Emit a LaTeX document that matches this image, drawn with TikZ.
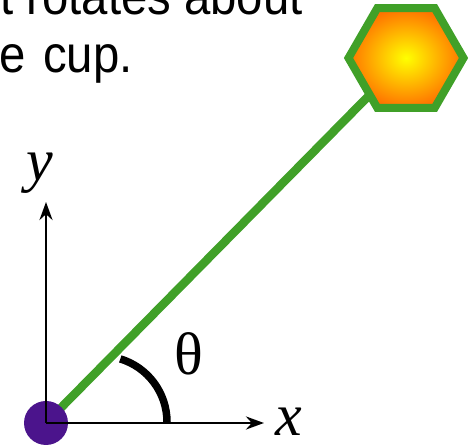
\documentclass[tikz,border=0pt]{standalone}
\usepackage{fontspec}
\newfontfamily\arialfont[FakeStretch=0.91]{Liberation Sans}
\newfontfamily\tnrfont{Liberation Serif}
\usetikzlibrary{shapes.geometric,arrows.meta,backgrounds}
\definecolor{rodgreen}{RGB}{64,160,40}
\definecolor{ballpurple}{RGB}{75,20,140}
\definecolor{hexorange}{RGB}{255,115,0}
\definecolor{hexyellow}{RGB}{255,255,0}
\tikzset{
  caption/.style={font=\arialfont\fontsize{52}{58}\selectfont, inner sep=0pt, anchor=base east},
  symlabel/.style={font=\tnrfont\fontsize{60}{66}\selectfont, inner sep=0pt},
  italabel/.style={font=\tnrfont\itshape\fontsize{60}{66}\selectfont, inner sep=0pt},
  rod/.style={draw=rodgreen, line width=8.5pt},
  ball/.style={circle, fill=ballpurple, minimum size=44pt, inner sep=0pt},
  hexbody/.style={regular polygon, regular polygon sides=6, minimum size=115pt, inner sep=0pt,
    draw=rodgreen, line width=8pt, inner color=hexyellow, outer color=hexorange},
  axis/.style={draw=black, line width=2.8pt, -{Stealth[length=18pt, width=13pt]}},
  anglearc/.style={draw=black, line width=7.5pt}
}
\begin{document}
\begin{tikzpicture}[x=1pt, y=1pt]
  \useasboundingbox (0,0) rectangle (476,446);
  % caption text (cut at the left edge)
  \node[caption] (line1) at (303,431) {t rotates about};
  \node[caption] (line2) at (133,373) {e\hspace{4pt} cup.};
  % objects
  \node[hexbody] (hex) at (406,388) {};
  \node[ball] (O) at (46,23) {};
  \begin{scope}[on background layer]
    \draw[rod] (O.center) -- (hex.center);
  \end{scope}
  % axes
  \coordinate (xend) at (264,23);
  \coordinate (yend) at (46,244);
  \draw[axis] (O.center) -- (xend);
  \draw[axis] (O.center) -- (yend);
  % angle arc
  \coordinate (arcstart) at (120.3,87.1);
  \draw[anglearc] (arcstart) arc[start angle=73, end angle=0, radius=66];
  % labels
  \node[italabel] (xlab) at (289,24) {x};
  \node[italabel] (ylab) at (40,273) {y};
  \node[symlabel] (theta) at (189,92) {θ};
\end{tikzpicture}
\end{document}
